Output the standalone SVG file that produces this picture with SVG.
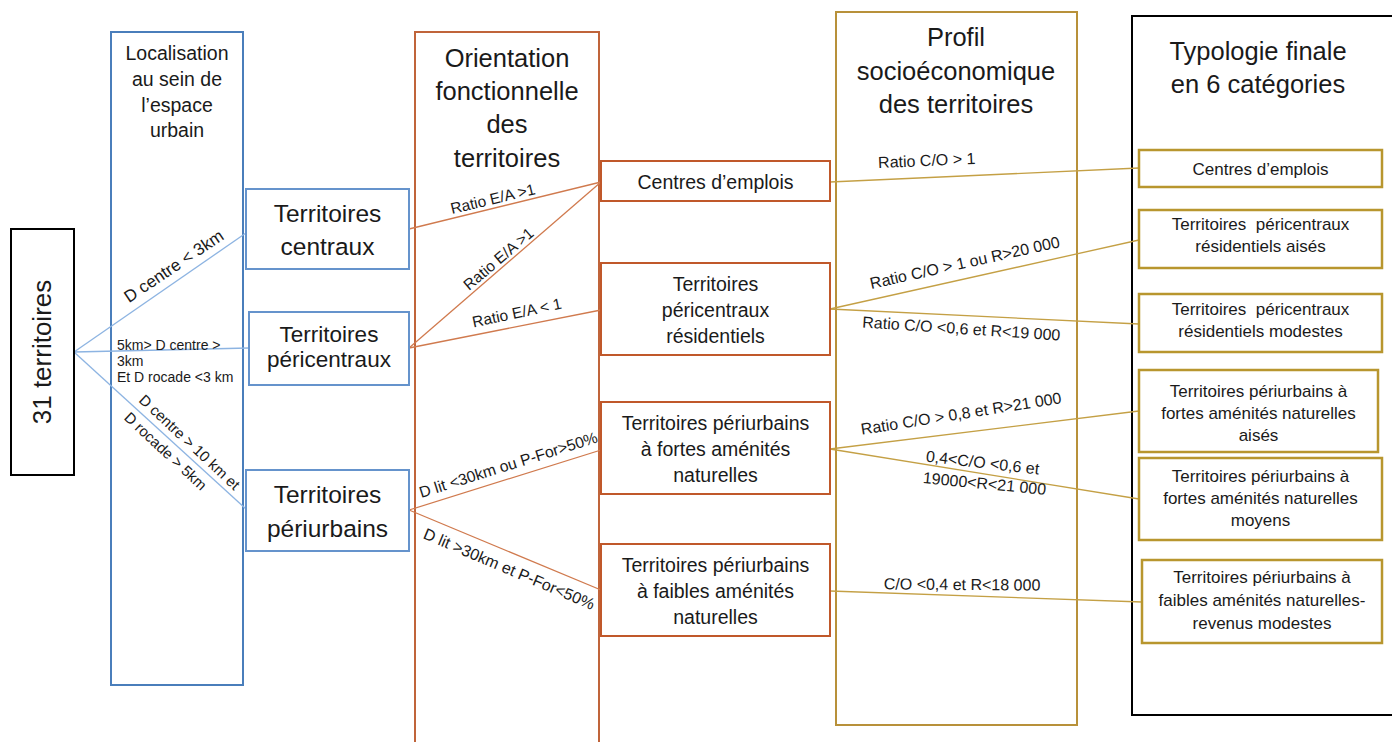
<svg xmlns="http://www.w3.org/2000/svg" width="1392" height="742" viewBox="0 0 1392 742">
<style>
text{font-family:"Liberation Sans",Arial,sans-serif;fill:#1a1a1a;text-anchor:middle}
.col1{fill:none;stroke:#4a7ebb;stroke-width:2}
.col2{fill:none;stroke:#c0643a;stroke-width:2}
.col3{fill:none;stroke:#b8913a;stroke-width:2}
.col4{fill:none;stroke:#000;stroke-width:2}
.nb{fill:#fff;stroke:#6593cc;stroke-width:2}
.no{fill:#fff;stroke:#c0582a;stroke-width:2}
.ng{fill:#fff;stroke:#b8962e;stroke-width:2.5}
.cb{stroke:#8db4e2;stroke-width:1.3;fill:none}
.co{stroke:#d07a4e;stroke-width:1.3;fill:none}
.cg{stroke:#c4a045;stroke-width:1.3;fill:none}
.t26{font-size:25.5px}
.tb{font-size:24.5px}
.to{font-size:19.5px}
.tg{font-size:17px}
.lab{font-size:15.5px}
.lab2{font-size:16px}
.sm{font-size:14px;text-anchor:start}
</style>

<!-- column frames -->
<g id="col-localisation">
<rect class="col1" x="111" y="32" width="132" height="653"/>
<text font-size="19.5px"><tspan x="177" y="60">Localisation</tspan><tspan x="177" y="86">au sein de</tspan><tspan x="177" y="111.5">l’espace</tspan><tspan x="177" y="137">urbain</tspan></text>
</g>
<g id="col-orientation">
<rect class="col2" x="415" y="32" width="184" height="730"/>
<text class="t26"><tspan x="507" y="67">Orientation</tspan><tspan x="507" y="100">fonctionnelle</tspan><tspan x="507" y="133">des</tspan><tspan x="507" y="166.5">territoires</tspan></text>
</g>
<g id="col-profil">
<rect class="col3" x="836" y="12" width="241" height="713"/>
<text class="t26"><tspan x="956" y="46">Profil</tspan><tspan x="956" y="79.5">socioéconomique</tspan><tspan x="956" y="112.5">des territoires</tspan></text>
</g>
<g id="col-typologie">
<rect class="col4" x="1132" y="16" width="280" height="699"/>
<text class="t26"><tspan x="1258" y="60">Typologie finale</tspan><tspan x="1258" y="93">en 6 catégories</tspan></text>
</g>

<!-- connectors -->
<g id="connectors">
<line class="cb" x1="74" y1="352" x2="246" y2="233"/>
<line class="cb" x1="74" y1="352" x2="249" y2="348"/>
<line class="cb" x1="74" y1="352" x2="246" y2="509"/>
<line class="co" x1="409" y1="229" x2="601" y2="182"/>
<line class="co" x1="409" y1="348" x2="601" y2="182"/>
<line class="co" x1="409" y1="348" x2="601" y2="310"/>
<line class="co" x1="409" y1="510" x2="601" y2="450"/>
<line class="co" x1="409" y1="510" x2="601" y2="590"/>
<line class="cg" x1="830" y1="182" x2="1139" y2="168"/>
<line class="cg" x1="830" y1="309" x2="1139" y2="240"/>
<line class="cg" x1="830" y1="309" x2="1139" y2="324"/>
<line class="cg" x1="830" y1="449" x2="1139" y2="411"/>
<line class="cg" x1="830" y1="449" x2="1139" y2="499"/>
<line class="cg" x1="830" y1="591" x2="1142" y2="602"/>

<text font-size="17px" transform="translate(177,271) rotate(-34)">D centre &lt; 3km</text>
<text class="sm"><tspan x="117" y="350">5km&gt; D centre &gt;</tspan><tspan x="117" y="366">3km</tspan><tspan x="117" y="382">Et D rocade &lt;3 km</tspan></text>
<text font-size="15px" transform="translate(186,446) rotate(43)">D centre &gt; 10 km et</text>
<text font-size="15px" transform="translate(162,455) rotate(43)">D rocade  &gt; 5km</text>

<text class="lab" transform="translate(494,204) rotate(-13.5)">Ratio E/A &gt;1</text>
<text class="lab" transform="translate(502,263) rotate(-40.5)">Ratio E/A &gt;1</text>
<text class="lab" transform="translate(518,318) rotate(-12)">Ratio E/A &lt; 1</text>
<text font-size="15.8px" transform="translate(510,470) rotate(-17.5)">D lit &lt;30km ou P-For&gt;50%</text>
<text font-size="16px" transform="translate(507,574) rotate(23)">D lit &gt;30km et P-For&lt;50%</text>

<text class="lab2" transform="translate(927,166) rotate(-2.5)">Ratio C/O &gt; 1</text>
<text class="lab2" transform="translate(966,268) rotate(-12.5)">Ratio C/O &gt; 1 ou R&gt;20 000</text>
<text class="lab2" transform="translate(961,334) rotate(3.8)">Ratio C/O &lt;0,6 et R&lt;19 000</text>
<text class="lab2" transform="translate(962,419) rotate(-9)">Ratio C/O &gt; 0,8 et R&gt;21 000</text>
<text class="lab2" transform="translate(982,468) rotate(6.5)">0,4&lt;C/O &lt;0,6 et</text>
<text class="lab2" transform="translate(984,489) rotate(5.5)">19000&lt;R&lt;21 000</text>
<text class="lab2" transform="translate(962,590) rotate(0.5)">C/O &lt;0,4 et R&lt;18 000</text>
</g>

<!-- nodes -->
<g id="n-31">
<rect x="11" y="229" width="63" height="246" fill="#fff" stroke="#000" stroke-width="2"/>
<text font-size="26px" transform="translate(51,352) rotate(-90)">31 territoires</text>
</g>

<g id="n-centraux">
<rect class="nb" x="246" y="189" width="163" height="80"/>
<text class="tb"><tspan x="327.5" y="222">Territoires</tspan><tspan x="327.5" y="255">centraux</tspan></text>
</g>
<g id="n-pericentraux">
<rect class="nb" x="249" y="312" width="160" height="73"/>
<text font-size="22.5px"><tspan x="329" y="341.5">Territoires</tspan><tspan x="329" y="367">péricentraux</tspan></text>
</g>
<g id="n-periurbains">
<rect class="nb" x="246" y="470" width="163" height="81"/>
<text class="tb"><tspan x="327.5" y="503">Territoires</tspan><tspan x="327.5" y="537">périurbains</tspan></text>
</g>

<g id="o-centres">
<rect class="no" x="601" y="161" width="229" height="40"/>
<text class="to" x="715.5" y="188.5">Centres d’emplois</text>
</g>
<g id="o-pericentraux-res">
<rect class="no" x="601" y="263" width="229" height="92"/>
<text class="to"><tspan x="715.5" y="291">Territoires</tspan><tspan x="715.5" y="317">péricentraux</tspan><tspan x="715.5" y="343">résidentiels</tspan></text>
</g>
<g id="o-fortes">
<rect class="no" x="601" y="402" width="229" height="92"/>
<text class="to"><tspan x="715.5" y="430">Territoires périurbains</tspan><tspan x="715.5" y="456">à fortes aménités</tspan><tspan x="715.5" y="482">naturelles</tspan></text>
</g>
<g id="o-faibles">
<rect class="no" x="601" y="544" width="229" height="92"/>
<text class="to"><tspan x="715.5" y="572">Territoires périurbains</tspan><tspan x="715.5" y="598">à faibles aménités</tspan><tspan x="715.5" y="624">naturelles</tspan></text>
</g>

<g id="g-centres">
<rect class="ng" x="1139" y="150" width="243" height="37"/>
<text class="tg" x="1260.5" y="174.5">Centres d’emplois</text>
</g>
<g id="g-res-aises">
<rect class="ng" x="1139" y="210" width="243" height="58"/>
<text class="tg" xml:space="preserve"><tspan x="1260.5" y="230">Territoires  péricentraux</tspan><tspan x="1260.5" y="252">résidentiels aisés</tspan></text>
</g>
<g id="g-res-modestes">
<rect class="ng" x="1139" y="294" width="243" height="58"/>
<text class="tg" xml:space="preserve"><tspan x="1260.5" y="315">Territoires  péricentraux</tspan><tspan x="1260.5" y="337">résidentiels modestes</tspan></text>
</g>
<g id="g-fortes-aises">
<rect class="ng" x="1139" y="370" width="239" height="82"/>
<text class="tg"><tspan x="1258.5" y="396.5">Territoires périurbains à</tspan><tspan x="1258.5" y="418.5">fortes aménités naturelles</tspan><tspan x="1258.5" y="440.5">aisés</tspan></text>
</g>
<g id="g-fortes-moyens">
<rect class="ng" x="1139" y="458" width="243" height="82"/>
<text class="tg"><tspan x="1260.5" y="482">Territoires périurbains à</tspan><tspan x="1260.5" y="504">fortes aménités naturelles</tspan><tspan x="1260.5" y="526">moyens</tspan></text>
</g>
<g id="g-faibles">
<rect class="ng" x="1142" y="560" width="240" height="83"/>
<text class="tg"><tspan x="1262" y="583">Territoires périurbains à</tspan><tspan x="1262" y="606">faibles aménités naturelles-</tspan><tspan x="1262" y="629">revenus modestes</tspan></text>
</g>
</svg>
